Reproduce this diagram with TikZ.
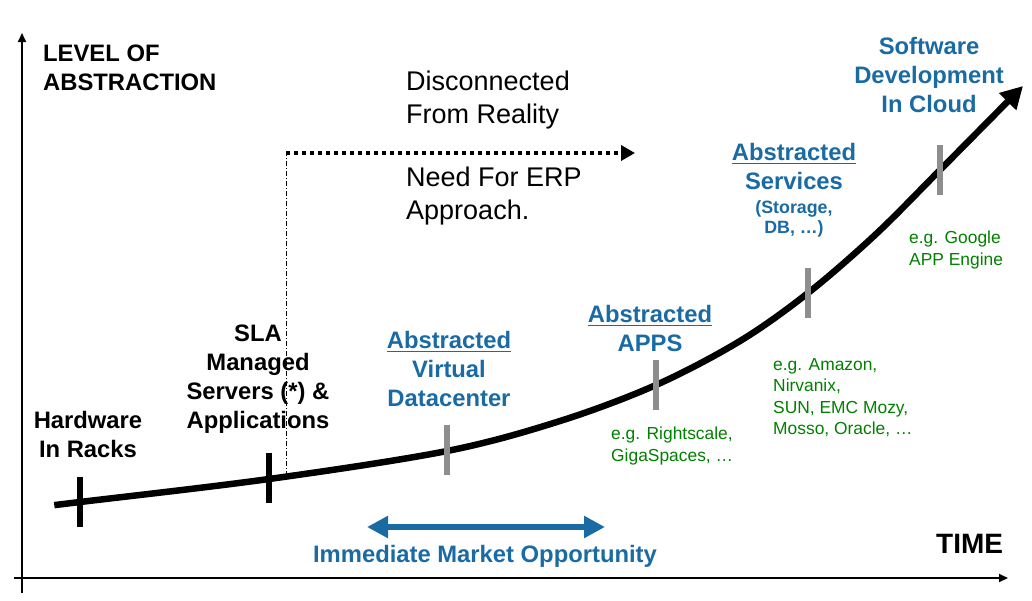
\documentclass[tikz,border=0pt]{standalone}
\usepackage{fontspec}
\setmainfont{Liberation Sans}
\usetikzlibrary{arrows.meta}
\definecolor{cblue}{RGB}{26,106,164}
\definecolor{cgreen}{RGB}{0,128,0}
\definecolor{cgray}{RGB}{142,142,142}
\newcommand\ulx[1]{\leavevmode\setbox0\hbox{#1}\rlap{\rule[-4pt]{\wd0}{1.7pt}}\box0}
\tikzset{
  big/.style={font=\bfseries\fontsize{23.8}{29}\selectfont, inner sep=0pt, align=center},
  bigblk/.style={big, text=black},
  bigblue/.style={big, text=cblue},
  plain/.style={font=\fontsize{27}{33}\selectfont, inner sep=0pt, align=left, anchor=north west},
  greenlbl/.style={font=\fontsize{17.4}{21.5}\selectfont, inner sep=0pt, align=left, anchor=north west, text=cgreen},
  blacktick/.style={line width=6pt, black},
  graytick/.style={line width=6pt, cgray},
  axis/.style={line width=2pt, -{Triangle[length=9pt,width=8pt]}},
}
\begin{document}
\begin{tikzpicture}[x=1pt,y=-1pt]
\useasboundingbox (0,0) rectangle (1032,600);
% axes
\coordinate (ybot) at (22,593);
\coordinate (ytop) at (22,33);
\coordinate (xl) at (14,578);
\coordinate (xr) at (1008,578);
\draw[axis] (ybot) -- (ytop);
\draw[axis] (xl) -- (xr);
% tick centres
\coordinate (t1) at (80,502);
\coordinate (t2) at (269,478);
\coordinate (t3) at (447,450);
\coordinate (t4) at (656,385);
\coordinate (t5) at (808,293);
\coordinate (t6) at (940,170);
% dotted/dash-dot
\coordinate (dtop) at (286,153);
\coordinate (dbot) at (286,476);
\coordinate (dend) at (635,153);
\draw[line width=1pt, dash pattern=on 5pt off 2pt on 1pt off 2pt] (dbot) -- (dtop);
\draw[line width=3.5pt, dash pattern=on 4pt off 4pt, -{Triangle[length=14pt,width=15pt]}] (dtop) -- (dend);
% curve
\draw[line width=6.5pt, line cap=round, -{Triangle[length=22pt,width=23pt]}]
  plot[smooth, tension=0.55] coordinates {(55,505) (80,502) (269,479) (447,451) (560,421) (656,385) (740,341) (808,293) (875,235) (940,170) (1023,86)};
% ticks
\draw[blacktick] ([yshift=-25pt]t1) -- ([yshift=25pt]t1);
\draw[blacktick] ([yshift=-25pt]t2) -- ([yshift=25pt]t2);
\draw[graytick] ([yshift=-25pt]t3) -- ([yshift=25pt]t3);
\draw[graytick] ([yshift=-25pt]t4) -- ([yshift=25pt]t4);
\draw[graytick] ([yshift=-25pt]t5) -- ([yshift=25pt]t5);
\draw[graytick] ([yshift=-25pt]t6) -- ([yshift=25pt]t6);
% texts
\node[bigblk, anchor=north west, align=left] (lvl) at (43,45) {LEVEL OF\\ABSTRACTION};
\node[plain] (disc) at (406,71) {Disconnected\\From Reality};
\node[plain] (erp) at (406,167) {Need For ERP\\Approach.};
\node[bigblk, anchor=north] (hw) at (88,411) {Hardware\\In Racks};
\node[bigblk, anchor=north] (sla) at (258,325) {SLA\\Managed\\Servers (*) \&\\Applications};
\node[bigblue, anchor=north] (avd) at (449,331) {\ulx{Abstracted}\\Virtual\\Datacenter};
\node[bigblue, anchor=north] (apps) at (650,305) {\ulx{Abstracted}\\APPS};
\node[bigblue, anchor=north] (svc) at (794,143) {\ulx{Abstracted}\\Services};
\node[font=\bfseries\fontsize{17.8}{20}\selectfont, inner sep=0pt, align=center, text=cblue, anchor=north] (stor) at (794,200) {(Storage,\\DB, …)};
\node[bigblue, anchor=north] (sw) at (929,37) {Software\\Development\\In Cloud};
\node[greenlbl] (g1) at (611,427) {e.g. Rightscale,\\GigaSpaces, …};
\node[greenlbl] (g2) at (773,358) {e.g. Amazon,\\Nirvanix,\\SUN, EMC Mozy,\\Mosso, Oracle, …};
\node[greenlbl] (g3) at (909,231) {e.g. Google\\APP Engine};
\node[font=\bfseries\fontsize{28}{33}\selectfont, inner sep=0pt, anchor=base west] (time) at (936,553) {TIME};
\node[font=\bfseries\fontsize{23.8}{29}\selectfont, inner sep=0pt, anchor=base, text=cblue] (imo) at (485,562) {Immediate Market Opportunity};
% double arrow
\coordinate (ml) at (367,527);
\coordinate (mr) at (605,527);
\draw[cblue, line width=6pt, {Triangle[length=21pt,width=21pt]}-{Triangle[length=21pt,width=21pt]}] (ml) -- (mr);
\end{tikzpicture}
\end{document}
